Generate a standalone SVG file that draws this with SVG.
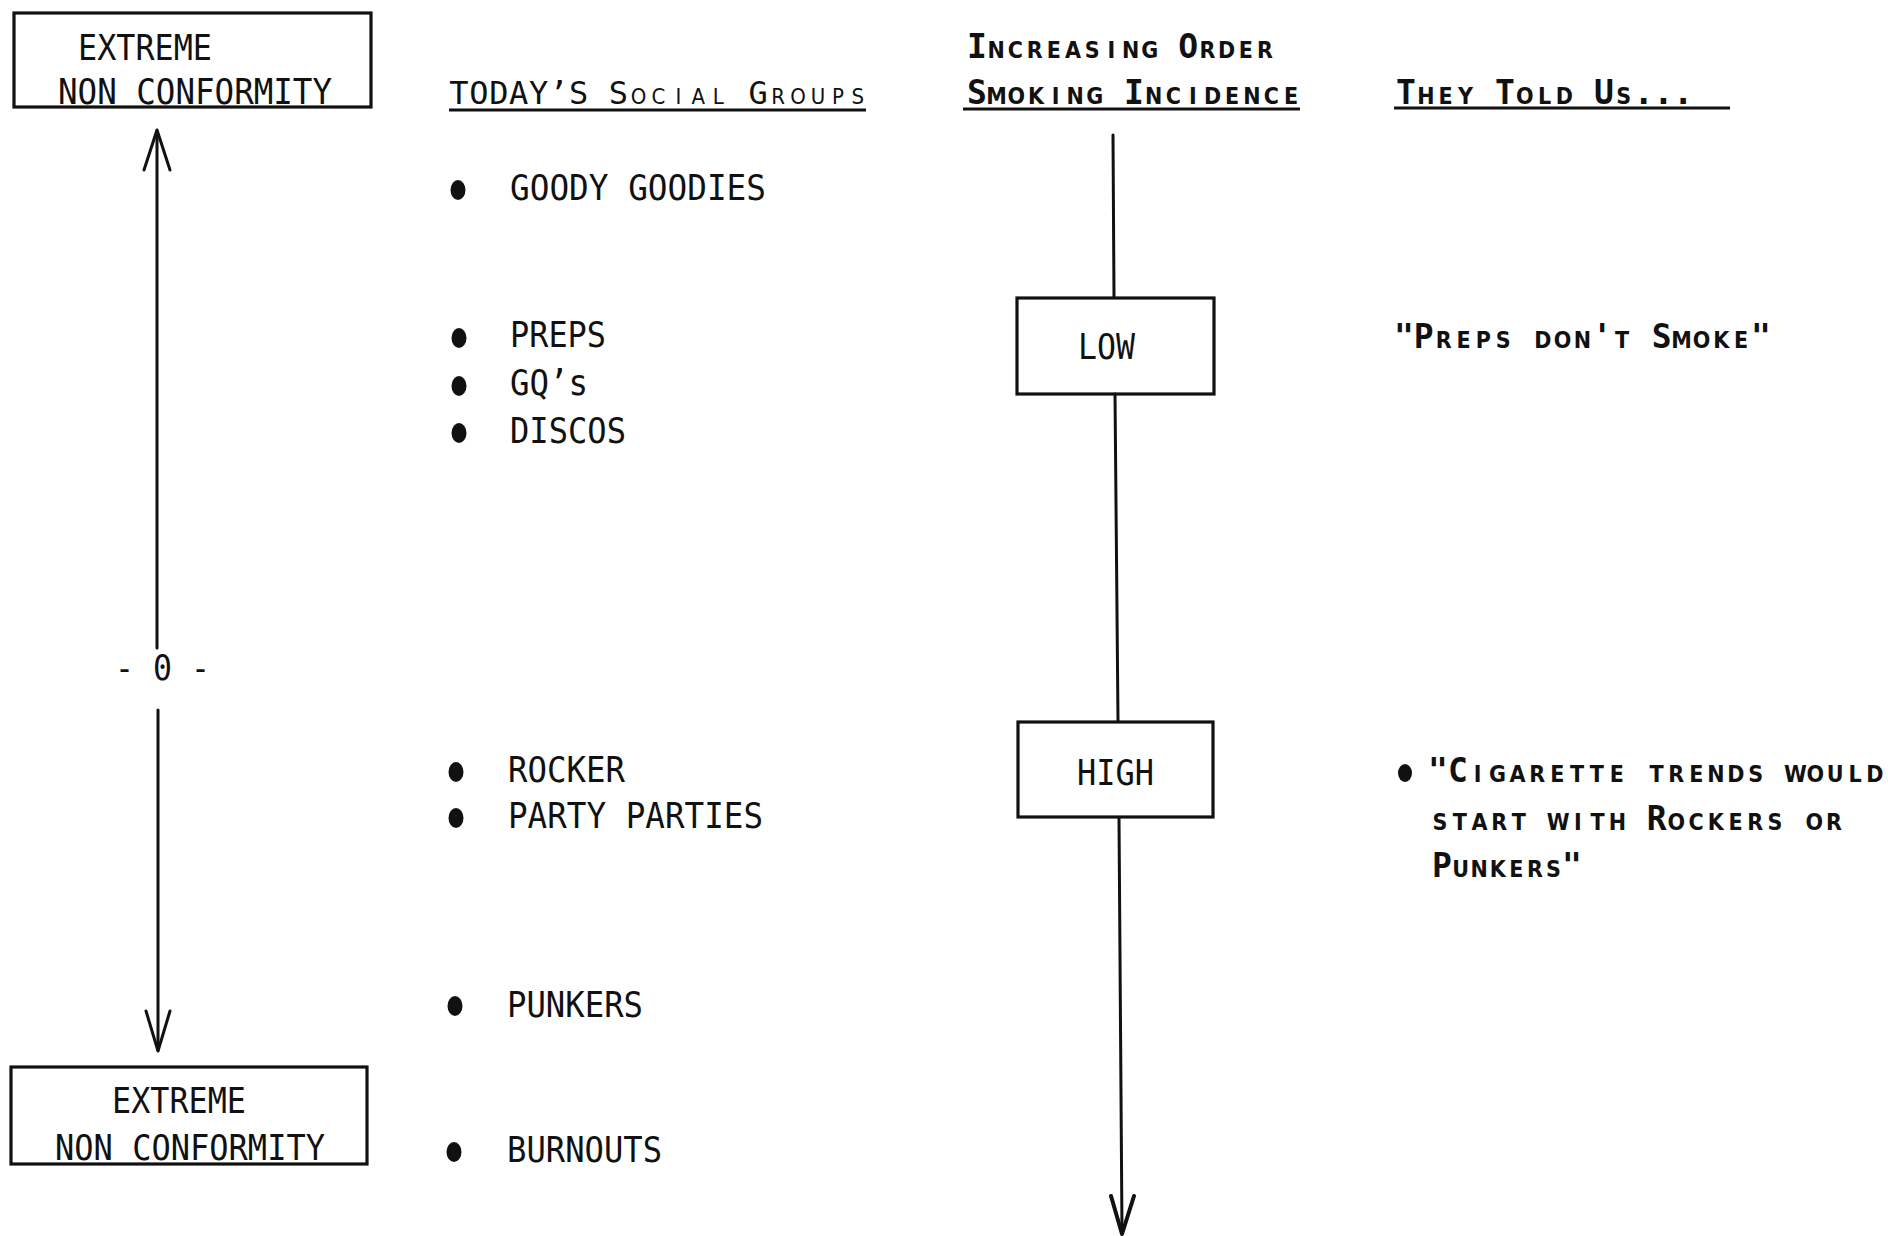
<svg xmlns="http://www.w3.org/2000/svg" width="1888" height="1236" viewBox="0 0 1888 1236">
<defs>
<style>
.bg{fill:#ffffff}
.box{fill:none;stroke:#111;stroke-width:3.2}
.ln{fill:none;stroke:#111;stroke-width:3;stroke-linecap:round;stroke-linejoin:round}
.lt{font-family:"DejaVu Sans Mono","Liberation Mono",monospace;font-size:36px;fill:#111}
.or{font-family:"DejaVu Sans Mono","Liberation Mono",monospace;font-size:33px;font-weight:bold;fill:#111;text-anchor:middle}
.hd{font-family:"DejaVu Sans Mono","Liberation Mono",monospace;font-size:32px;fill:#111;text-anchor:middle}
.sc{font-family:"DejaVu Sans Condensed","DejaVu Sans",sans-serif;font-stretch:condensed;font-variant:small-caps}
.ul{stroke:#111;stroke-width:3}
.dot{fill:#111}
</style>
</defs>
<rect class="bg" x="0" y="0" width="1888" height="1236"/>

<g id="connectors">
  <line class="ln" x1="157" y1="131" x2="157" y2="648"/>
  <polyline class="ln" points="144,170 157,130 170,170"/>
  <line class="ln" x1="158" y1="710" x2="158" y2="1050"/>
  <polyline class="ln" points="146,1011 158,1051 170,1011"/>
  <line class="ln" x1="1113" y1="135" x2="1114" y2="297"/>
  <line class="ln" x1="1115" y1="394" x2="1118" y2="721"/>
  <line class="ln" x1="1119" y1="818" x2="1122" y2="1232"/>
  <polyline class="ln" style="stroke-width:4" points="1111,1196 1122,1234 1134,1196"/>
</g>

<g id="box-top">
  <rect class="box" x="14" y="13" width="357" height="94"/>
  <text class="lt" x="78" y="60" textLength="134" lengthAdjust="spacingAndGlyphs">EXTREME</text>
  <text class="lt" x="58" y="104" textLength="274" lengthAdjust="spacingAndGlyphs">NON CONFORMITY</text>
</g>

<g id="zero-label">
  <text class="lt" x="115" y="680" textLength="95" lengthAdjust="spacingAndGlyphs">- 0 -</text>
</g>

<g id="box-bottom">
  <rect class="box" x="11" y="1067" width="356" height="97"/>
  <text class="lt" x="112" y="1113" textLength="134" lengthAdjust="spacingAndGlyphs">EXTREME</text>
  <text class="lt" x="55" y="1160" textLength="270" lengthAdjust="spacingAndGlyphs">NON CONFORMITY</text>
</g>

<g id="header-social-groups">
  <text class="hd" y="104" x="458.9 478.85 498.8 518.75 538.7 558.65 578.6 598.55 618.5 638.45 658.4 678.35 698.3 718.25 738.2 758.15 778.1 798.05 818 837.95 857.9">TODAY’S S<tspan class="sc">ocial</tspan> G<tspan class="sc">roups</tspan></text>
  <line class="ul" x1="449" y1="110" x2="866" y2="110"/>
</g>

<g id="header-smoking">
  <text class="or" y="58" x="977 996.2 1015.4 1034.6 1053.8 1073 1092.2 1111.4 1130.6 1149.8 1169 1188.2 1207.4 1226.6 1245.8 1265">I<tspan class="sc">ncreasing</tspan> O<tspan class="sc">rder</tspan></text>
  <text class="or" y="104" x="977 996.6 1016.3 1035.9 1055.5 1075.1 1094.8 1114.4 1134 1153.6 1173.3 1192.9 1212.5 1232.1 1251.8 1271.4 1291">S<tspan class="sc">moking</tspan> I<tspan class="sc">ncidence</tspan></text>
  <line class="ul" x1="963" y1="109" x2="1300" y2="109"/>
</g>

<g id="header-told">
  <text class="or" y="104" x="1406 1425.8 1445.6 1465.4 1485.2 1505 1524.8 1544.6 1564.4 1584.2 1604 1623.8 1643.6 1663.4 1683.2">T<tspan class="sc">hey</tspan> T<tspan class="sc">old</tspan> U<tspan class="sc">s</tspan>...</text>
  <line class="ul" x1="1394" y1="108" x2="1730" y2="108"/>
</g>

<g id="item-goody">
  <ellipse class="dot" cx="458" cy="190" rx="7.5" ry="10"/>
  <text class="lt" x="510" y="200" textLength="256" lengthAdjust="spacingAndGlyphs">GOODY GOODIES</text>
</g>
<g id="item-preps">
  <ellipse class="dot" cx="459" cy="338" rx="7.5" ry="10"/>
  <text class="lt" x="510" y="347" textLength="96" lengthAdjust="spacingAndGlyphs">PREPS</text>
</g>
<g id="item-gqs">
  <ellipse class="dot" cx="459" cy="386" rx="7.5" ry="10"/>
  <text class="lt" x="510" y="395" textLength="78" lengthAdjust="spacingAndGlyphs">GQ’s</text>
</g>
<g id="item-discos">
  <ellipse class="dot" cx="459" cy="433" rx="7.5" ry="10"/>
  <text class="lt" x="510" y="443" textLength="116" lengthAdjust="spacingAndGlyphs">DISCOS</text>
</g>
<g id="item-rocker">
  <ellipse class="dot" cx="456" cy="772" rx="7.5" ry="10"/>
  <text class="lt" x="508" y="782" textLength="117" lengthAdjust="spacingAndGlyphs">ROCKER</text>
</g>
<g id="item-party">
  <ellipse class="dot" cx="456" cy="818" rx="7.5" ry="10"/>
  <text class="lt" x="508" y="828" textLength="255" lengthAdjust="spacingAndGlyphs">PARTY PARTIES</text>
</g>
<g id="item-punkers">
  <ellipse class="dot" cx="455" cy="1006" rx="7.5" ry="10"/>
  <text class="lt" x="507" y="1017" textLength="136" lengthAdjust="spacingAndGlyphs">PUNKERS</text>
</g>
<g id="item-burnouts">
  <ellipse class="dot" cx="454" cy="1152" rx="7.5" ry="10"/>
  <text class="lt" x="507" y="1162" textLength="155" lengthAdjust="spacingAndGlyphs">BURNOUTS</text>
</g>

<g id="box-low">
  <rect class="box" x="1017" y="298" width="197" height="96"/>
  <text class="lt" x="1078" y="359" textLength="57" lengthAdjust="spacingAndGlyphs">LOW</text>
</g>
<g id="box-high">
  <rect class="box" x="1018" y="722" width="195" height="95"/>
  <text class="lt" x="1077" y="785" textLength="77" lengthAdjust="spacingAndGlyphs">HIGH</text>
</g>

<g id="quote-preps">
  <text class="or" y="348" x="1404 1423.8 1443.7 1463.5 1483.3 1503.2 1523 1542.8 1562.6 1582.5 1602.3 1622.1 1642 1661.8 1681.6 1701.5 1721.3 1741.1 1761">"P<tspan class="sc">reps don</tspan>'<tspan class="sc">t</tspan> S<tspan class="sc">moke</tspan>"</text>
</g>
<g id="quote-cigarette">
  <ellipse class="dot" cx="1405" cy="773" rx="7" ry="9"/>
  <text class="or" y="782" x="1438 1457.9 1477.7 1497.6 1517.4 1537.3 1557.2 1577 1596.9 1616.7 1636.6 1656.5 1676.3 1696.2 1716 1735.9 1755.8 1775.6 1795.5 1815.3 1835.2 1855.1 1874.9">"C<tspan class="sc">igarette trends would</tspan></text>
  <text class="or" y="830" x="1440 1459.7 1479.4 1499.1 1518.8 1538.5 1558.2 1577.9 1597.6 1617.3 1637 1656.7 1676.4 1696.1 1715.8 1735.5 1755.2 1774.9 1794.6 1814.3 1834"><tspan class="sc">start with</tspan> R<tspan class="sc">ockers or</tspan></text>
  <text class="or" y="877" x="1442 1460.6 1479.1 1497.7 1516.3 1534.9 1553.4 1572">P<tspan class="sc">unkers</tspan>"</text>
</g>
</svg>
